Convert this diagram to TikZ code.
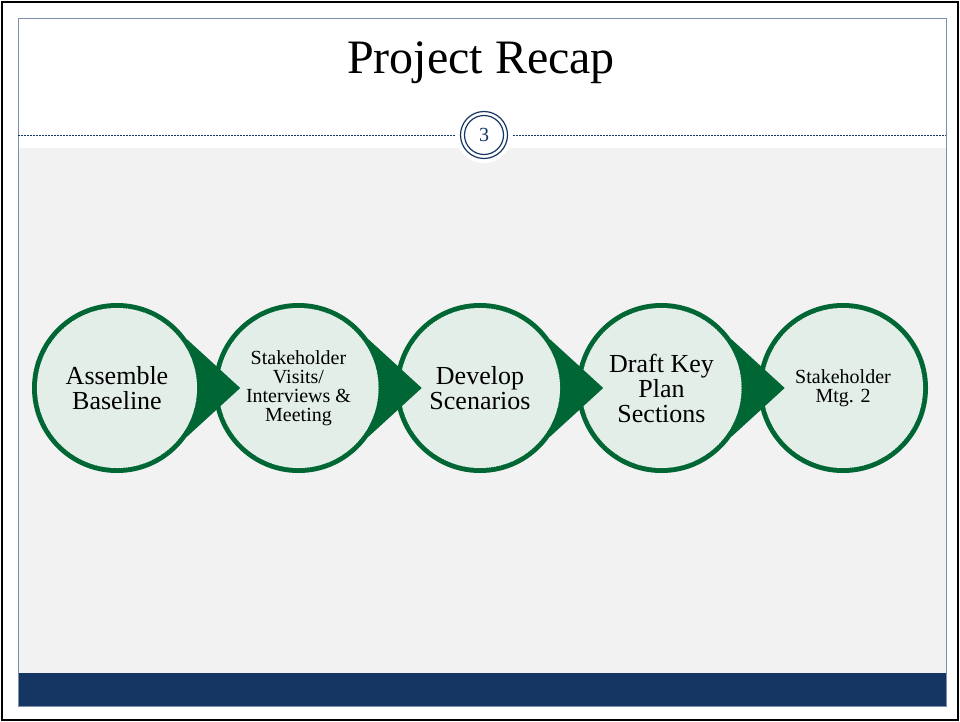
\documentclass[tikz,border=0pt]{standalone}
\usepackage{fontspec}
\setmainfont{Liberation Serif}
\usetikzlibrary{positioning, calc}
\definecolor{ringgreen}{RGB}{0,102,51}
\definecolor{stagefill}{RGB}{228,238,232}
\definecolor{slidenavy}{RGB}{21,54,99}
\definecolor{slidegray}{RGB}{242,242,242}
\definecolor{framegray}{RGB}{127,143,175}
\tikzset{
  ringdisc/.style={
    circle, fill=ringgreen, minimum size=170pt, inner sep=0pt
  },
  stage/.style={
    circle, fill=stagefill, draw=white, dotted, line width=0.5pt,
    minimum size=160pt, inner sep=0pt, align=center
  },
  bigtext/.style={font=\fontsize{26}{25}\selectfont},
  smalltext/.style={font=\fontsize{20}{19}\selectfont},
  pointer/.style={fill=ringgreen}
}

\begin{document}
\begin{tikzpicture}[x=1pt, y=-1pt]
    \useasboundingbox (0,0) rectangle (960,721);
    % slide frame and bands
    \fill[white] (0,0) rectangle (960,721);
    \fill[slidegray] (18,148) rectangle (946,673);
    \fill[slidenavy] (18,673) rectangle (946,706);
    \draw[framegray, line width=0.8pt] (18,18) rectangle (946,706);
    \draw[black, line width=2pt] (1.5,1.5) rectangle (957.5,719.5);
    \node[font=\fontsize{48}{50}\selectfont] (title) at (481,63) {Project Recap};
    % divider with page badge
    \coordinate (divL) at (18,135);
    \coordinate (divR) at (946,135);
    \draw[slidenavy, dashed, dash pattern=on 2pt off 1pt, line width=0.7pt] (divL) -- (divR);
    \node[circle, fill=white, minimum size=56pt, inner sep=0pt] (badge) at (484,135) {};
    \node[circle, draw=slidenavy, line width=1.2pt, minimum size=47pt, inner sep=0pt] (badgeO) at (badge) {};
    \node[circle, draw=slidenavy, line width=1.2pt, minimum size=39pt, inner sep=0pt,
          text=slidenavy, font=\fontsize{20}{20}\selectfont] (badgeI) at (badge) {3};
    % stages, drawn from right to left so each pointer lies on the next disc
    \node[ringdisc] (d5) at (843,388) {};
    \node[stage, smalltext] (s5) at (d5) {Stakeholder\\Mtg. 2};
    \node[ringdisc] (d4) at (661.5,388) {};
    \coordinate[right=38pt of d4.east] (t4);
    \fill[pointer] (d4.35) -- (t4) -- (d4.-35) -- cycle;
    \node[stage, bigtext] (s4) at (d4) {Draft Key\\Plan\\Sections};
    \node[ringdisc] (d3) at (480,388) {};
    \coordinate[right=38pt of d3.east] (t3);
    \fill[pointer] (d3.35) -- (t3) -- (d3.-35) -- cycle;
    \node[stage, bigtext] (s3) at (d3) {Develop\\Scenarios};
    \node[ringdisc] (d2) at (298.5,388) {};
    \coordinate[right=38pt of d2.east] (t2);
    \fill[pointer] (d2.35) -- (t2) -- (d2.-35) -- cycle;
    \node[stage, smalltext] (s2) at (d2) {Stakeholder\\Visits/\\Interviews \&\\Meeting};
    \node[ringdisc] (d1) at (117,388) {};
    \coordinate[right=38pt of d1.east] (t1);
    \fill[pointer] (d1.35) -- (t1) -- (d1.-35) -- cycle;
    \node[stage, bigtext] (s1) at (d1) {Assemble\\Baseline};
\end{tikzpicture}
\end{document}
